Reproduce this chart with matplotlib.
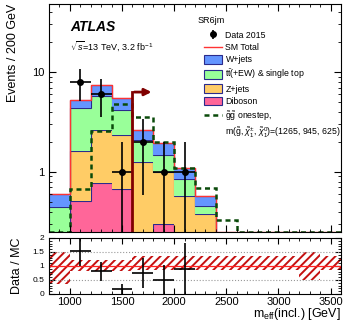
import numpy as np
import matplotlib
matplotlib.use('Agg')
import matplotlib.pyplot as plt
from matplotlib.patches import Patch
from matplotlib.lines import Line2D
from matplotlib.ticker import MultipleLocator, LogLocator, NullFormatter

plt.rcParams['font.family'] = ['Liberation Sans', 'DejaVu Sans']
plt.rcParams['mathtext.fontset'] = 'custom'
plt.rcParams['mathtext.rm'] = 'Liberation Sans'
plt.rcParams['mathtext.it'] = 'Liberation Sans:italic'
plt.rcParams['mathtext.bf'] = 'Liberation Sans:bold'
plt.rcParams['hatch.linewidth'] = 1.4

# m_eff bins, 200 GeV wide
edges = np.arange(800, 3601, 200)
centers = 0.5 * (edges[:-1] + edges[1:])

diboson = np.array([0.05, 0.51, 0.78, 0.67, 0.22, 0.30, 0.08, 0.05, 0, 0, 0, 0, 0, 0])
zjets = np.array([0.10, 1.11, 1.85, 1.67, 1.04, 0.70, 0.495, 0.33, 0, 0, 0, 0, 0, 0])
ttbar = np.array([0.29, 2.75, 3.12, 1.83, 0.84, 0.48, 0.275, 0.07, 0, 0, 0, 0, 0, 0])
wjets = np.array([0.16, 0.88, 1.65, 1.33, 0.55, 0.47, 0.25, 0.125, 0, 0, 0, 0, 0, 0])
signal = np.array([0, 0.68, 2.57, 4.8, 3.55, 2.0, 1.1, 0.69, 0.33, 0, 0, 0, 0, 0])
data = np.array([0, 8, 6, 1, 2, 1, 1, 0, 0, 0, 0, 0, 0, 0])

band_lo = np.array([0.36, 0.81, 0.81, 0.81, 0.86, 0.86, 0.86, 0.86, 0.86, 0.86, 0.86, 0.86, 0.5, 0.86])
band_hi = np.array([1.5, 1.22, 1.22, 1.22, 1.34, 1.34, 1.34, 1.34, 1.34, 1.34, 1.34, 1.34, 1.5, 1.34])

cut = 1600
cut_y = 6.3

cols = ['#ff6699', '#ffcc66', '#99ff99', '#6495ff']
edgec = '#2b2b8c'
ymin, ymax = 0.25, 48

fig = plt.figure(figsize=(3.49, 3.23), dpi=100)
ax = fig.add_axes([0.1404, 0.2817, 0.8367, 0.7059])
axr = fig.add_axes([0.1404, 0.0898, 0.8367, 0.1734])

base = np.full(len(centers), 1e-3)
for vals, c in zip([diboson, zjets, ttbar, wjets], cols):
    top = base + vals
    ax.stairs(top, edges, baseline=base, fill=True, facecolor=c, edgecolor='none')
    ax.stairs(top, edges, baseline=None, color=edgec, lw=0.8)
    base = top
total = diboson + zjets + ttbar + wjets

ax.stairs(np.maximum(total, ymin * 1.01), edges, baseline=None, color='#ff3333', lw=1.0)
ax.stairs(np.maximum(signal, ymin * 1.01), edges, baseline=None, color='#0a4a0a',
          lw=1.8, ls=(0, (2, 1.5)))

m = data > 0
ax.errorbar(centers[m], data[m], yerr=np.sqrt(data[m]), xerr=100, fmt='o', color='black',
            ms=4, elinewidth=1.2, capsize=0)

ax.plot([cut, cut], [ymin, cut_y], color='#800000', lw=2)
ax.annotate('', xy=(1810, cut_y), xytext=(cut - 8, cut_y),
            arrowprops=dict(arrowstyle='-|>', color='#800000', lw=2, mutation_scale=10))

ax.set_yscale('log')
ax.set_xlim(800, 3600)
ax.set_ylim(ymin, ymax)
ax.set_yticks([1, 10], ['1', '10'])
ax.yaxis.set_minor_locator(LogLocator(base=10, subs=np.arange(2, 10)))
ax.yaxis.set_minor_formatter(NullFormatter())
ax.xaxis.set_major_locator(MultipleLocator(500))
ax.xaxis.set_minor_locator(MultipleLocator(100))
ax.tick_params(which='both', direction='in', top=True, right=True, labelbottom=False, labelsize=8)
ax.tick_params(which='major', length=5)
ax.tick_params(which='minor', length=2.5)
ax.set_ylabel('Events / 200 GeV', fontsize=9, loc='top')
ax.yaxis.set_label_coords(-0.104, 1.0)

ax.text(0.072, 0.899, 'ATLAS', transform=ax.transAxes, fontsize=10, fontweight='bold',
        fontstyle='italic', va='center')
ax.text(0.072, 0.816, r'$\sqrt{s}$=13 TeV, 3.2 fb$^{-1}$', transform=ax.transAxes,
        fontsize=6.5, va='center')
ax.text(0.51, 0.928, 'SR6jm', transform=ax.transAxes, fontsize=6.5, va='center')

h_data = ax.errorbar([np.nan], [np.nan], yerr=[1], fmt='o', color='black', ms=4,
                     elinewidth=1.2, capsize=0)
handles = [h_data,
           Line2D([], [], color='#ff3333', lw=1.0),
           Patch(facecolor=cols[3], edgecolor=edgec, lw=0.8),
           Patch(facecolor=cols[2], edgecolor=edgec, lw=0.8),
           Patch(facecolor=cols[1], edgecolor=edgec, lw=0.8),
           Patch(facecolor=cols[0], edgecolor=edgec, lw=0.8),
           Line2D([], [], color='#0a4a0a', lw=1.8, ls=(0, (2, 1.5))),
           Line2D([], [], color='none')]
labels = ['Data 2015', 'SM Total', 'W+jets', r't$\bar{\rm t}$(+EW) & single top', 'Z+jets',
          'Diboson', r'$\tilde{\rm g}\tilde{\rm g}$ onestep,',
          r'm($\tilde{\rm g}$, $\tilde{\chi}^{\pm}_{1}$, $\tilde{\chi}^{0}_{1}$)=(1265, 945, 625)']
leg = ax.legend(handles, labels, fontsize=6.3,
                loc='upper left', bbox_to_anchor=(0.51, 0.91), frameon=False,
                handlelength=2.05, handleheight=1.1, labelspacing=0.36, handletextpad=0.4,
                borderaxespad=0.3)

# ratio panel
axr.fill_between(edges, np.append(band_lo, band_lo[-1]), np.append(band_hi, band_hi[-1]),
                 step='post', facecolor='none', edgecolor='#c41010', hatch='////', lw=0)
axr.axhline(1, color='#ff2222', lw=0.9)
for yv in [0.5, 1.5]:
    axr.axhline(yv, color='#999999', lw=0.8, ls=':')
ratio = data[m] / total[m]
axr.errorbar(centers[m], ratio, yerr=np.sqrt(data[m]) / total[m], xerr=100, fmt='none',
             ecolor='black', elinewidth=1.2, capsize=0)
axr.set_xlim(800, 3600)
axr.set_ylim(0, 2)
axr.set_yticks([0, 0.5, 1, 1.5, 2], ['0', '0.5', '1', '1.5', '2'])
axr.yaxis.set_minor_locator(MultipleLocator(0.1))
axr.xaxis.set_major_locator(MultipleLocator(500))
axr.xaxis.set_minor_locator(MultipleLocator(100))
axr.tick_params(which='both', direction='in', top=True, right=True)
axr.tick_params(axis='x', labelsize=8, pad=2)
axr.tick_params(axis='y', labelsize=6)
axr.tick_params(which='major', length=4)
axr.tick_params(which='minor', length=2)
axr.set_ylabel('Data / MC', fontsize=9)
axr.yaxis.set_label_coords(-0.089, 0.5)
axr.set_xlabel(r'm$_{\rm eff}$(incl.) [GeV]', fontsize=9, loc='right')
axr.xaxis.set_label_coords(1.0, -0.22)

fig.savefig('out.png', dpi=100)
